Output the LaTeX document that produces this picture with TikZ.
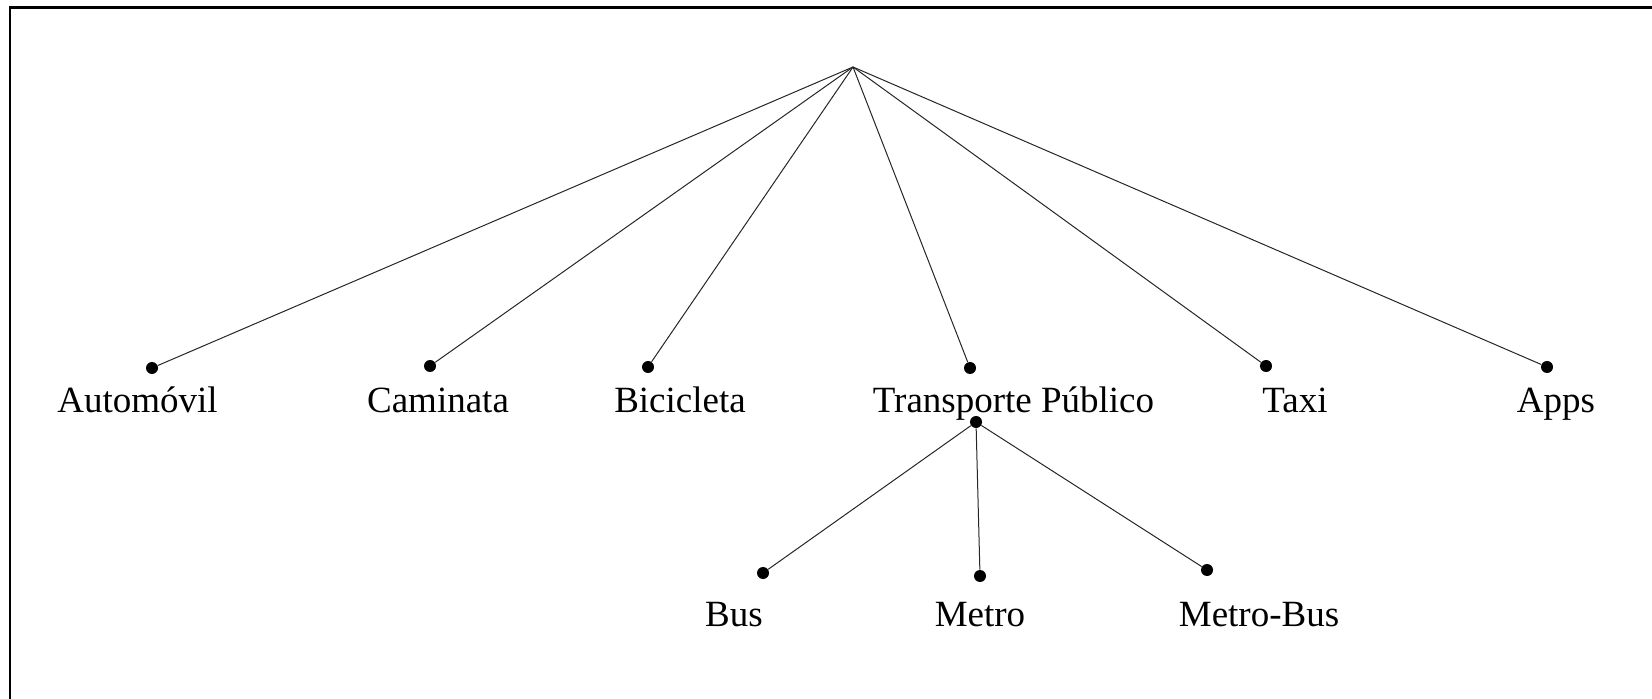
\documentclass[tikz,border=0pt]{standalone}
\usepackage{fontspec}
\setmainfont{Liberation Serif}
\begin{document}
\begin{tikzpicture}[x=0.5pt,y=-0.5pt,
  dot/.style={circle,fill=black,inner sep=0pt,minimum size=6pt},
  lbl/.style={anchor=base,inner sep=0pt,font=\fontsize{18.5}{22}\selectfont},
  edge/.style={line width=0.5pt,draw=black!85}]
\useasboundingbox (0,0) rectangle (1652,699);
\draw[line width=1.2pt] (1652,7.7) -- (10,7.7) -- (10,699);
\coordinate (root) at (853,67);
\node[dot] (auto) at (152,368) {};
\node[dot] (cami) at (430,366) {};
\node[dot] (bici) at (648,367) {};
\node[dot] (tp) at (970,368) {};
\node[dot] (taxi) at (1266,366) {};
\node[dot] (apps) at (1547,367) {};
\node[dot] (tp2) at (976,422) {};
\node[dot] (bus) at (763,573) {};
\node[dot] (metro) at (980,576) {};
\node[dot] (mb) at (1207,570) {};
\node[lbl] (tauto) at (137.5,413) {Automóvil};
\node[lbl] (tcami) at (438,413) {Caminata};
\node[lbl] (tbici) at (680,413) {Bicicleta};
\node[lbl] (ttp) at (1013.5,413) {Transporte Público};
\node[lbl] (ttaxi) at (1295,413) {Taxi};
\node[lbl] (tapps) at (1556,413) {Apps};
\node[lbl] (tbus) at (734,626) {Bus};
\node[lbl] (tmetro) at (980,626) {Metro};
\node[lbl] (tmb) at (1259,626) {Metro-Bus};
\foreach \n in {auto,cami,bici,tp,taxi,apps} \draw[edge] (root) -- (\n);
\foreach \n in {bus,metro,mb} \draw[edge] (tp2) -- (\n);
\end{tikzpicture}
\end{document}
